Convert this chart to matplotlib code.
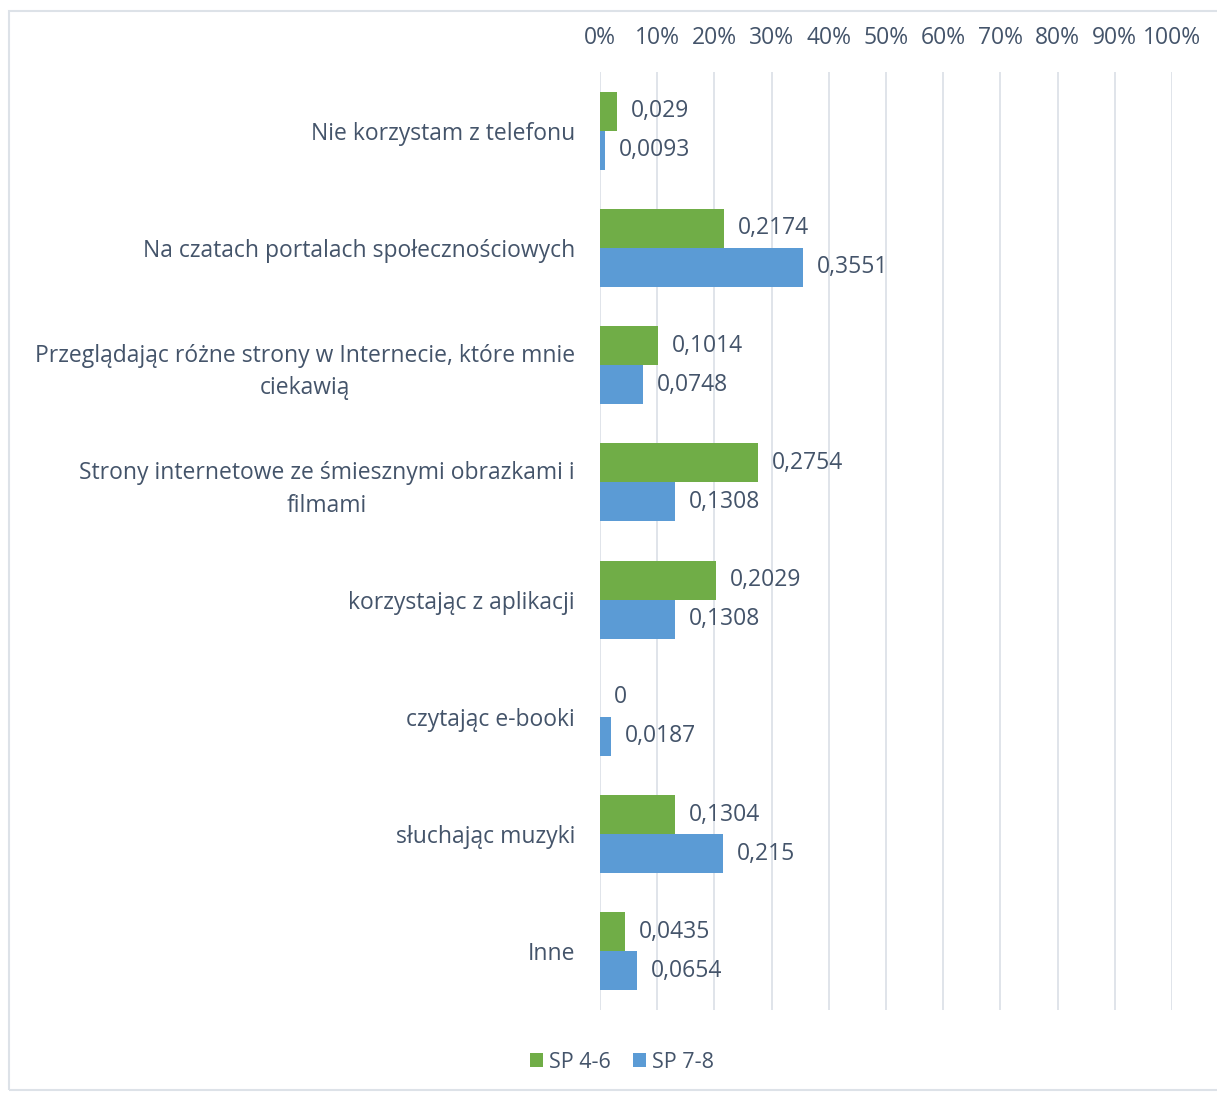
import numpy as np
import matplotlib.pyplot as plt
from matplotlib.patches import Rectangle

categories = [
    "Nie korzystam z telefonu",
    "Na czatach portalach społecznościowych",
    "Przeglądając różne strony w Internecie, które mnie\nciekawią",
    "Strony internetowe ze śmiesznymi obrazkami i\nfilmami",
    "korzystając z aplikacji",
    "czytając e-booki",
    "słuchając muzyki",
    "Inne",
]
sp_4_6 = [0.029, 0.2174, 0.1014, 0.2754, 0.2029, 0.0, 0.1304, 0.0435]
sp_7_8 = [0.0093, 0.3551, 0.0748, 0.1308, 0.1308, 0.0187, 0.215, 0.0654]
series_names = ["SP 4-6", "SP 7-8"]

GREEN = "#70AD47"
BLUE = "#5B9BD5"
TEXT = "#44546A"
GRID = "#dde2e8"
FS = 16.5

plt.rcParams["font.family"] = ["Open Sans", "DejaVu Sans"]

fig = plt.figure(figsize=(12.17, 10.93), dpi=100)
ax = fig.add_axes([0.493, 0.076, 0.47, 0.858])

y = np.arange(len(categories))
h = 0.333

b1 = ax.barh(y - h / 2, sp_4_6, height=h, color=GREEN, label=series_names[0])
b2 = ax.barh(y + h / 2, sp_7_8, height=h, color=BLUE, label=series_names[1])

def fmt(v):
    return f"{v:g}".replace(".", ",")

# value labels in Polish decimal format
for bars, vals in ((b1, sp_4_6), (b2, sp_7_8)):
    for rect, v in zip(bars, vals):
        ax.annotate(fmt(v), (v, rect.get_y() + rect.get_height() / 2),
                    xytext=(10, 0), textcoords="offset points",
                    va="center", ha="left", fontsize=FS, color=TEXT)

ax.set_xlim(0, 1)
ax.set_ylim(len(categories) - 0.5, -0.5)
ticks = np.linspace(0, 1, 11)
ax.set_xticks(ticks)
ax.set_xticklabels([f"{int(round(t * 100))}%" for t in ticks])
ax.xaxis.tick_top()
ax.tick_params(axis="x", length=0, pad=16, labelsize=FS, labelcolor=TEXT)
ax.set_yticks(y)
ax.set_yticklabels(categories, multialignment="center", linespacing=1.45)
ax.tick_params(axis="y", length=0, pad=18, labelsize=FS, labelcolor=TEXT)
ax.grid(axis="x", color=GRID, linewidth=1.3)
ax.set_axisbelow(True)
for s in ax.spines.values():
    s.set_visible(False)

fig.legend(handles=[b1, b2], labels=series_names, loc="center",
           bbox_to_anchor=(622 / 1217, 1 - 1062 / 1093), ncol=2, frameon=False,
           fontsize=FS - 1, labelcolor=TEXT, handlelength=0.6, handleheight=0.6,
           handletextpad=0.3, columnspacing=1.0)

fig.patches.append(Rectangle((9 / 1217, 1 - 1090 / 1093), 1.2, (1090 - 11) / 1093,
                             transform=fig.transFigure, fill=False,
                             edgecolor=GRID, linewidth=1.5))

fig.savefig("out.png", dpi=100)
